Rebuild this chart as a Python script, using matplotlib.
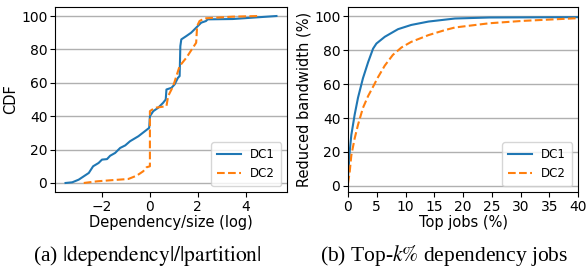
import numpy as np
import matplotlib
matplotlib.use('Agg')
from matplotlib import pyplot as plt

# (a) CDF of |dependency|/|partition| (log scale)
dc1_x = [-3.52, -3.24, -2.97, -2.76, -2.55, -2.46, -2.37, -2.14, -2.0, -1.79, -1.66, -1.45,
         -1.24, -1.03, -0.83, -0.48, -0.21, -0.03, 0.0, 0.14, 0.34, 0.55, 0.66, 0.69, 0.9,
         1.03, 1.17, 1.24, 1.27, 1.31, 1.52, 1.72, 1.93, 2.14, 2.34, 2.41, 3.45, 5.28]
dc1_y = [0, 0.4, 2, 4, 6, 8, 10, 12, 14, 14.3, 16.3, 18,
         21, 22.5, 25, 28, 31, 33, 40, 43, 45, 48, 50, 56, 57,
         59, 63, 64, 82, 86, 88, 90, 93, 96, 97, 98, 98.2, 100]
dc2_x = [-2.76, -2.2, -1.66, -0.9, -0.55, -0.28, -0.14, 0.0, 0.0, 0.2, 0.69, 0.76,
         0.97, 1.24, 1.52, 1.93, 1.97, 2.07, 2.28, 3.45, 4.55]
dc2_y = [0, 1, 1.6, 2.4, 4.4, 7, 9.4, 10, 43, 45, 46, 52,
         58, 70, 75, 84, 94, 97, 98.6, 99.6, 100]

# (b) reduced bandwidth vs top jobs
top1_x = [0, 0.29, 0.58, 1.16, 1.74, 2.6, 3.5, 4.36, 4.94, 6.4, 8.7, 11, 14, 18.6, 24.6, 40]
top1_y = [5, 20, 30, 42, 52, 63.5, 73, 81, 84, 88, 92.5, 95, 97, 98.8, 99.4, 99.6]
top2_x = [0, 0.29, 0.58, 1.16, 1.74, 2.6, 3.5, 4.36, 5.2, 6.4, 7.8, 9.3, 11, 14, 16.9,
          18.6, 24.6, 30.4, 40]
top2_y = [1.4, 8, 18, 28, 36, 46, 53, 58.5, 64, 71, 77.3, 81.7, 85, 89, 92,
          93.5, 96, 97.4, 99]

plt.rcParams['font.family'] = 'DejaVu Sans'
plt.rcParams['mathtext.fontset'] = 'stix'

fig = plt.figure(figsize=(5.87, 2.70), dpi=100)
ax1 = fig.add_axes([55/587, 78/270, 232/587, 185/270])
ax2 = fig.add_axes([348/587, 78/270, 230/587, 185/270])

blue = '#1f77b4'
orange = '#ff7f0e'

ax1.plot(dc1_x, dc1_y, color=blue, lw=1.5, label='DC1')
ax1.plot(dc2_x, dc2_y, color=orange, lw=1.5, ls='--', label='DC2')
ax1.set_xticks([-2, 0, 2, 4])
ax1.set_ylim(-5.4, 105.4)
ax1.set_xlabel('Dependency/size (log)', fontsize=10.5, labelpad=1)
ax1.set_ylabel('CDF', fontsize=10.5, labelpad=2)

ax2.plot(top1_x, top1_y, color=blue, lw=1.5, label='DC1')
ax2.plot(top2_x, top2_y, color=orange, lw=1.5, ls='--', label='DC2')
ax2.set_xlim(0, 40)
ax2.set_ylim(-3.7, 105.6)
ax2.set_xticks(range(0, 41, 5))
ax2.set_xlabel('Top jobs (%)', fontsize=10.5, labelpad=1)
ax2.set_ylabel('Reduced bandwidth (%)', fontsize=10.5, labelpad=2)

for ax in (ax1, ax2):
    ax.set_yticks([0, 20, 40, 60, 80, 100])
    ax.grid(axis='y', color='#b0b0b0', lw=1)
    ax.set_axisbelow(True)
    ax.tick_params(labelsize=10, length=3.5, pad=2)
    ax.legend(loc='lower right', fontsize=8.5, framealpha=0.8, borderpad=0.5)

fig.text(147/587, 9/270, r'(a) $|\mathrm{dependency}|/|\mathrm{partition}|$',
         ha='center', va='baseline', fontsize=15.5, family='Liberation Serif')
fig.text(444/587, 9/270, r'(b) Top-$k\%$ dependency jobs',
         ha='center', va='baseline', fontsize=15.5, family='Liberation Serif')

fig.savefig('out.png', dpi=100)
